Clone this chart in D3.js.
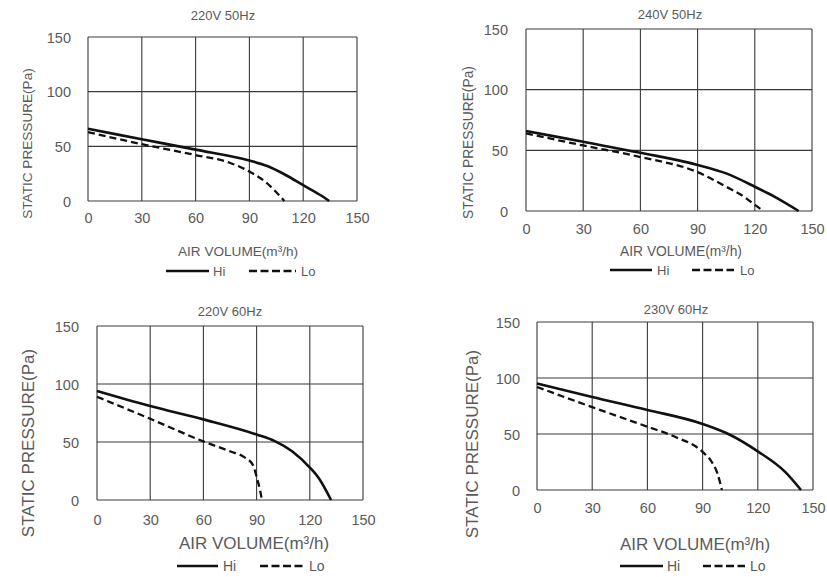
<!DOCTYPE html>
<html>
<head>
<meta charset="utf-8">
<script src="https://cdn.jsdelivr.net/npm/d3@7"></script>
<style>
  html, body { margin: 0; padding: 0; background: #fff; }
  svg { display: block; }
  text { font-family: "Liberation Sans", Arial, sans-serif; fill: #5a5a5a; }
</style>
</head>
<body>
<svg id="chart" width="827" height="577"></svg>
<script>
// ---- data ----
const panelTitles = ["220V 50Hz", "240V 50Hz", "220V 60Hz", "230V 60Hz"];
const seriesNames = ["Hi", "Lo"];
const xTickValues = [0, 30, 60, 90, 120, 150];
const yTickValues = [0, 50, 100, 150];
const xAxisTitle = "AIR VOLUME(m³/h)";
const yAxisTitle = "STATIC PRESSURE(Pa)";

// 220V 50Hz
const hiVolume1   = [0, 30, 60, 90, 100, 110, 120, 130, 134.5];
const hiPressure1 = [66, 56.5, 47, 37, 32, 24, 14.5, 5, 0];
const loVolume1   = [0, 30, 60, 79, 90, 100, 105, 109.5];
const loPressure1 = [63, 52, 42, 35, 27, 16, 8, 0];
// 240V 50Hz
const hiVolume2   = [0, 30, 60, 90, 105, 120, 130, 143];
const hiPressure2 = [66, 57, 48, 38, 31, 20, 12, 0];
const loVolume2   = [0, 30, 60, 90, 105, 115, 120, 124.5];
const loPressure2 = [64, 54, 44.5, 32, 20, 11, 5, 0];
// 220V 60Hz
const hiVolume3   = [0, 30, 60, 90, 100, 110, 120, 125, 132];
const hiPressure3 = [94, 81, 69.5, 56.5, 51, 42, 28, 19, 0];
const loVolume3   = [0, 30, 60, 75, 83, 88, 90, 92, 93];
const loPressure3 = [89, 70, 50.5, 42, 37, 30, 20, 8, 0];
// 230V 60Hz
const hiVolume4   = [0, 30, 60, 90, 104, 120, 135, 143.5];
const hiPressure4 = [95, 83, 71.5, 59, 50, 34.5, 16, 0];
const loVolume4   = [0, 30, 60, 75, 90, 95, 98, 100.5];
const loPressure4 = [92, 74, 56.5, 47.5, 34, 25, 15, 0];

const hiVolumes = [hiVolume1, hiVolume2, hiVolume3, hiVolume4];
const hiPressures = [hiPressure1, hiPressure2, hiPressure3, hiPressure4];
const loVolumes = [loVolume1, loVolume2, loVolume3, loVolume4];
const loPressures = [loPressure1, loPressure2, loPressure3, loPressure4];

// ---- layout (positions / styles) ----
const layouts = [
  { L: 88, R: 357, T: 37, B: 201, title: [223, 15], ytitle: [27, 143.5], xtitle: [238, 251],
    leg: { y: 271, hi: [166, 209], hiT: 213, lo: [249, 296], loT: 301 },
    fTick: 14.5, fAxis: 13.6, fTitle: 13, fLeg: 13, xLab: 17, yLab: 17 },
  { L: 526, R: 812, T: 29, B: 211, title: [670, 14], ytitle: [468, 142.5], xtitle: [681, 251],
    leg: { y: 270, hi: [610, 652], hiT: 657, lo: [692, 734], loT: 740 },
    fTick: 14.5, fAxis: 13.8, fTitle: 13, fLeg: 13, xLab: 18, yLab: 18 },
  { L: 97, R: 363, T: 326, B: 500, title: [230, 311], ytitle: [28, 443], xtitle: [254, 543],
    leg: { y: 566, hi: [177, 218], hiT: 223, lo: [260, 304], loT: 309 },
    fTick: 14.5, fAxis: 17, fTitle: 13, fLeg: 14, xLab: 20, yLab: 18 },
  { L: 537, R: 813, T: 322, B: 490, title: [676, 309], ytitle: [472, 444], xtitle: [695, 544],
    leg: { y: 566, hi: [620, 663], hiT: 667, lo: [703, 745], loT: 750 },
    fTick: 14.5, fAxis: 17, fTitle: 13, fLeg: 14, xLab: 18, yLab: 17 }
];

const gridColor = "#3a3a3a";
const svg = d3.select("#chart");

layouts.forEach((lay, i) => {
  const x = d3.scaleLinear().domain([0, 150]).range([lay.L, lay.R]);
  const y = d3.scaleLinear().domain([0, 150]).range([lay.B, lay.T]);
  const g = svg.append("g");

  // grid
  g.append("g").selectAll("line").data(xTickValues).join("line")
    .attr("x1", d => x(d)).attr("x2", d => x(d))
    .attr("y1", y(0)).attr("y2", y(150))
    .attr("stroke", gridColor).attr("stroke-width", 1.1);
  g.append("g").selectAll("line").data(yTickValues).join("line")
    .attr("x1", x(0)).attr("x2", x(150))
    .attr("y1", d => y(d)).attr("y2", d => y(d))
    .attr("stroke", gridColor).attr("stroke-width", 1.1);

  // axes labels
  const xa = g.append("g").attr("transform", `translate(0,${lay.B})`)
    .call(d3.axisBottom(x).tickValues(xTickValues).tickSize(0).tickFormat(d3.format("d")));
  xa.select(".domain").remove();
  xa.selectAll("text").attr("y", lay.xLab).attr("dy", "0.35em")
    .style("font-size", lay.fTick + "px").style("font-family", "Liberation Sans, Arial, sans-serif")
    .attr("fill", "#5a5a5a");

  const ya = g.append("g").attr("transform", `translate(${lay.L},0)`)
    .call(d3.axisLeft(y).tickValues(yTickValues).tickSize(0).tickFormat(d3.format("d")));
  ya.select(".domain").remove();
  ya.selectAll("text").attr("x", -lay.yLab).attr("dy", "0.35em")
    .style("font-size", lay.fTick + "px").style("font-family", "Liberation Sans, Arial, sans-serif")
    .attr("fill", "#5a5a5a");

  // titles
  g.append("text").attr("x", lay.title[0]).attr("y", lay.title[1])
    .attr("text-anchor", "middle").attr("dominant-baseline", "central")
    .style("font-size", lay.fTitle + "px").text(panelTitles[i]);
  g.append("text").attr("x", lay.xtitle[0]).attr("y", lay.xtitle[1])
    .attr("text-anchor", "middle").attr("dominant-baseline", "central")
    .style("font-size", lay.fAxis + "px").text(xAxisTitle);
  g.append("text")
    .attr("transform", `translate(${lay.ytitle[0]},${lay.ytitle[1]}) rotate(-90)`)
    .attr("text-anchor", "middle").attr("dominant-baseline", "central")
    .style("font-size", lay.fAxis + "px").text(yAxisTitle);

  // curves
  const line = d3.line().x(d => x(d[0])).y(d => y(d[1])).curve(d3.curveMonotoneX);
  const hiData = hiVolumes[i].map((v, k) => [v, hiPressures[i][k]]);
  const loData = loVolumes[i].map((v, k) => [v, loPressures[i][k]]);
  g.append("path").datum(loData).attr("d", line)
    .attr("fill", "none").attr("stroke", "#111").attr("stroke-width", 2.3)
    .attr("stroke-dasharray", "7,4");
  g.append("path").datum(hiData).attr("d", line)
    .attr("fill", "none").attr("stroke", "#111").attr("stroke-width", 2.6);

  // legend
  const lg = lay.leg;
  g.append("line").attr("x1", lg.hi[0]).attr("x2", lg.hi[1]).attr("y1", lg.y).attr("y2", lg.y)
    .attr("stroke", "#111").attr("stroke-width", 2.6);
  g.append("text").attr("x", lg.hiT).attr("y", lg.y).attr("dominant-baseline", "central")
    .style("font-size", lay.fLeg + "px").text(seriesNames[0]);
  g.append("line").attr("x1", lg.lo[0]).attr("x2", lg.lo[1]).attr("y1", lg.y).attr("y2", lg.y)
    .attr("stroke", "#111").attr("stroke-width", 2.3).attr("stroke-dasharray", "8,3.5");
  g.append("text").attr("x", lg.loT).attr("y", lg.y).attr("dominant-baseline", "central")
    .style("font-size", lay.fLeg + "px").text(seriesNames[1]);
});
</script>
</body>
</html>
